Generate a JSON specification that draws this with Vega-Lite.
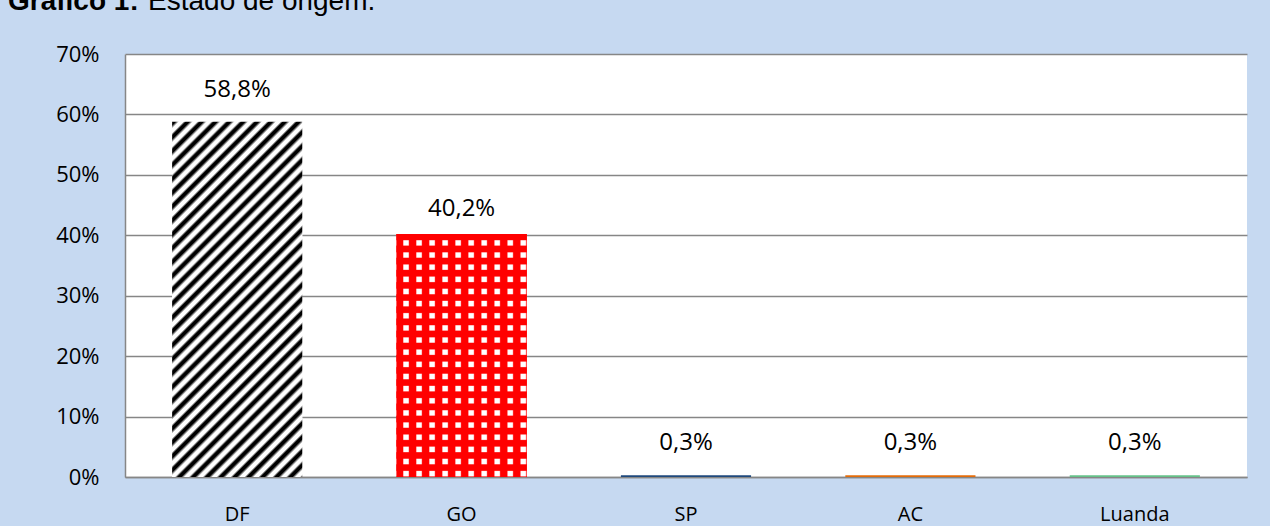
{
  "$schema": "https://vega.github.io/schema/vega-lite/v6.json",
  "width": 1122,
  "height": 423,
  "autosize": {"type": "none"},
  "padding": {"left": 125, "top": 54, "right": 23, "bottom": 49},
  "background": "#C6D9F1",
  "config": {
    "locale": {"number": {"decimal": ",", "thousands": ".", "grouping": [3], "currency": ["R$ ", ""]}},
    "view": {"fill": "white", "stroke": null},
    "axis": {"labelFont": "Open Sans", "labelFontSize": 20, "labelColor": "#000000", "domainColor": "#868686", "domainWidth": 1.5, "gridColor": "#868686", "gridWidth": 1.3, "ticks": false}
  },
  "title": {
    "text": "Gráfico 1:",
    "subtitle": "\u200b\u00a0\u00a0\u00a0\u00a0\u00a0\u00a0\u00a0\u00a0\u00a0\u00a0\u00a0\u00a0\u00a0\u00a0\u00a0\u00a0\u00a0\u00a0Estado de origem.",
    "anchor": "start",
    "frame": "group",
    "font": "Liberation Sans",
    "fontSize": 28,
    "fontWeight": "bold",
    "color": "#000000",
    "subtitleFont": "Liberation Sans",
    "subtitleFontSize": 28,
    "subtitleFontWeight": "normal",
    "subtitleColor": "#000000",
    "subtitlePadding": -28,
    "dx": -117,
    "offset": 27
  },
  "data": {
    "values": [
      {"estado": "DF", "valor": 0.588},
      {"estado": "GO", "valor": 0.402},
      {"estado": "SP", "valor": 0.003},
      {"estado": "AC", "valor": 0.003},
      {"estado": "Luanda", "valor": 0.003}
    ]
  },
  "encoding": {
    "x": {
      "field": "estado", "type": "nominal", "sort": null,
      "scale": {"paddingInner": 0.42, "paddingOuter": 0.21},
      "axis": {"labelAngle": 0, "labelPadding": 27, "title": null, "grid": false}
    },
    "y": {
      "field": "valor", "type": "quantitative",
      "scale": {"domain": [0, 0.7]},
      "axis": {"format": ".0%", "values": [0, 0.1, 0.2, 0.3, 0.4, 0.5, 0.6, 0.7], "labelPadding": 26, "labelFontSize": 22, "title": null, "grid": true}
    }
  },
  "layer": [
    {
      "mark": {"type": "bar"},
      "encoding": {
        "color": {
          "field": "estado", "type": "nominal", "legend": null,
          "scale": {"domain": ["DF", "GO", "SP", "AC", "Luanda"], "range": ["#FFFFFF", "#FF0000", "#1F497D", "#E46C0A", "#66C28A"]}
        }
      }
    },
    {
      "transform": [{"filter": "datum.estado === 'DF'"}],
      "mark": {
        "type": "bar",
        "color": {
          "gradient": "linear", "x1": 0, "y1": 0, "x2": 0.441, "y2": 1.205,
          "stops": [
            {"offset": 0, "color": "#000"}, {"offset": 0.00714, "color": "#000"}, {"offset": 0.01429, "color": "#fff"}, {"offset": 0.02286, "color": "#fff"},
            {"offset": 0.02857, "color": "#000"}, {"offset": 0.03571, "color": "#000"}, {"offset": 0.04286, "color": "#fff"}, {"offset": 0.05143, "color": "#fff"},
            {"offset": 0.05714, "color": "#000"}, {"offset": 0.06429, "color": "#000"}, {"offset": 0.07143, "color": "#fff"}, {"offset": 0.08, "color": "#fff"},
            {"offset": 0.08571, "color": "#000"}, {"offset": 0.09286, "color": "#000"}, {"offset": 0.1, "color": "#fff"}, {"offset": 0.10857, "color": "#fff"},
            {"offset": 0.11429, "color": "#000"}, {"offset": 0.12143, "color": "#000"}, {"offset": 0.12857, "color": "#fff"}, {"offset": 0.13714, "color": "#fff"},
            {"offset": 0.14286, "color": "#000"}, {"offset": 0.15, "color": "#000"}, {"offset": 0.15714, "color": "#fff"}, {"offset": 0.16571, "color": "#fff"},
            {"offset": 0.17143, "color": "#000"}, {"offset": 0.17857, "color": "#000"}, {"offset": 0.18571, "color": "#fff"}, {"offset": 0.19429, "color": "#fff"},
            {"offset": 0.2, "color": "#000"}, {"offset": 0.20714, "color": "#000"}, {"offset": 0.21429, "color": "#fff"}, {"offset": 0.22286, "color": "#fff"},
            {"offset": 0.22857, "color": "#000"}, {"offset": 0.23571, "color": "#000"}, {"offset": 0.24286, "color": "#fff"}, {"offset": 0.25143, "color": "#fff"},
            {"offset": 0.25714, "color": "#000"}, {"offset": 0.26429, "color": "#000"}, {"offset": 0.27143, "color": "#fff"}, {"offset": 0.28, "color": "#fff"},
            {"offset": 0.28571, "color": "#000"}, {"offset": 0.29286, "color": "#000"}, {"offset": 0.3, "color": "#fff"}, {"offset": 0.30857, "color": "#fff"},
            {"offset": 0.31429, "color": "#000"}, {"offset": 0.32143, "color": "#000"}, {"offset": 0.32857, "color": "#fff"}, {"offset": 0.33714, "color": "#fff"},
            {"offset": 0.34286, "color": "#000"}, {"offset": 0.35, "color": "#000"}, {"offset": 0.35714, "color": "#fff"}, {"offset": 0.36571, "color": "#fff"},
            {"offset": 0.37143, "color": "#000"}, {"offset": 0.37857, "color": "#000"}, {"offset": 0.38571, "color": "#fff"}, {"offset": 0.39429, "color": "#fff"},
            {"offset": 0.4, "color": "#000"}, {"offset": 0.40714, "color": "#000"}, {"offset": 0.41429, "color": "#fff"}, {"offset": 0.42286, "color": "#fff"},
            {"offset": 0.42857, "color": "#000"}, {"offset": 0.43571, "color": "#000"}, {"offset": 0.44286, "color": "#fff"}, {"offset": 0.45143, "color": "#fff"},
            {"offset": 0.45714, "color": "#000"}, {"offset": 0.46429, "color": "#000"}, {"offset": 0.47143, "color": "#fff"}, {"offset": 0.48, "color": "#fff"},
            {"offset": 0.48571, "color": "#000"}, {"offset": 0.49286, "color": "#000"}, {"offset": 0.5, "color": "#fff"}, {"offset": 0.50857, "color": "#fff"},
            {"offset": 0.51429, "color": "#000"}, {"offset": 0.52143, "color": "#000"}, {"offset": 0.52857, "color": "#fff"}, {"offset": 0.53714, "color": "#fff"},
            {"offset": 0.54286, "color": "#000"}, {"offset": 0.55, "color": "#000"}, {"offset": 0.55714, "color": "#fff"}, {"offset": 0.56571, "color": "#fff"},
            {"offset": 0.57143, "color": "#000"}, {"offset": 0.57857, "color": "#000"}, {"offset": 0.58571, "color": "#fff"}, {"offset": 0.59429, "color": "#fff"},
            {"offset": 0.6, "color": "#000"}, {"offset": 0.60714, "color": "#000"}, {"offset": 0.61429, "color": "#fff"}, {"offset": 0.62286, "color": "#fff"},
            {"offset": 0.62857, "color": "#000"}, {"offset": 0.63571, "color": "#000"}, {"offset": 0.64286, "color": "#fff"}, {"offset": 0.65143, "color": "#fff"},
            {"offset": 0.65714, "color": "#000"}, {"offset": 0.66429, "color": "#000"}, {"offset": 0.67143, "color": "#fff"}, {"offset": 0.68, "color": "#fff"},
            {"offset": 0.68571, "color": "#000"}, {"offset": 0.69286, "color": "#000"}, {"offset": 0.7, "color": "#fff"}, {"offset": 0.70857, "color": "#fff"},
            {"offset": 0.71429, "color": "#000"}, {"offset": 0.72143, "color": "#000"}, {"offset": 0.72857, "color": "#fff"}, {"offset": 0.73714, "color": "#fff"},
            {"offset": 0.74286, "color": "#000"}, {"offset": 0.75, "color": "#000"}, {"offset": 0.75714, "color": "#fff"}, {"offset": 0.76571, "color": "#fff"},
            {"offset": 0.77143, "color": "#000"}, {"offset": 0.77857, "color": "#000"}, {"offset": 0.78571, "color": "#fff"}, {"offset": 0.79429, "color": "#fff"},
            {"offset": 0.8, "color": "#000"}, {"offset": 0.80714, "color": "#000"}, {"offset": 0.81429, "color": "#fff"}, {"offset": 0.82286, "color": "#fff"},
            {"offset": 0.82857, "color": "#000"}, {"offset": 0.83571, "color": "#000"}, {"offset": 0.84286, "color": "#fff"}, {"offset": 0.85143, "color": "#fff"},
            {"offset": 0.85714, "color": "#000"}, {"offset": 0.86429, "color": "#000"}, {"offset": 0.87143, "color": "#fff"}, {"offset": 0.88, "color": "#fff"},
            {"offset": 0.88571, "color": "#000"}, {"offset": 0.89286, "color": "#000"}, {"offset": 0.9, "color": "#fff"}, {"offset": 0.90857, "color": "#fff"},
            {"offset": 0.91429, "color": "#000"}, {"offset": 0.92143, "color": "#000"}, {"offset": 0.92857, "color": "#fff"}, {"offset": 0.93714, "color": "#fff"},
            {"offset": 0.94286, "color": "#000"}, {"offset": 0.95, "color": "#000"}, {"offset": 0.95714, "color": "#fff"}, {"offset": 0.96571, "color": "#fff"},
            {"offset": 0.97143, "color": "#000"}, {"offset": 0.97857, "color": "#000"}, {"offset": 0.98571, "color": "#fff"}, {"offset": 0.99429, "color": "#fff"},
            {"offset": 1, "color": "#000"}
          ]
        }
      }
    },
    {
      "transform": [{"filter": "datum.estado === 'GO'"}],
      "mark": {
        "type": "bar",
        "color": {
          "gradient": "linear", "x1": 0, "y1": 0, "x2": 0, "y2": 1,
          "stops": [
            {"offset": 0, "color": "#f00"}, {"offset": 0.0225, "color": "#f00"}, {"offset": 0.0275, "color": "#fff"}, {"offset": 0.045, "color": "#fff"},
            {"offset": 0.05, "color": "#f00"}, {"offset": 0.0725, "color": "#f00"}, {"offset": 0.0775, "color": "#fff"}, {"offset": 0.095, "color": "#fff"},
            {"offset": 0.1, "color": "#f00"}, {"offset": 0.1225, "color": "#f00"}, {"offset": 0.1275, "color": "#fff"}, {"offset": 0.145, "color": "#fff"},
            {"offset": 0.15, "color": "#f00"}, {"offset": 0.1725, "color": "#f00"}, {"offset": 0.1775, "color": "#fff"}, {"offset": 0.195, "color": "#fff"},
            {"offset": 0.2, "color": "#f00"}, {"offset": 0.2225, "color": "#f00"}, {"offset": 0.2275, "color": "#fff"}, {"offset": 0.245, "color": "#fff"},
            {"offset": 0.25, "color": "#f00"}, {"offset": 0.2725, "color": "#f00"}, {"offset": 0.2775, "color": "#fff"}, {"offset": 0.295, "color": "#fff"},
            {"offset": 0.3, "color": "#f00"}, {"offset": 0.3225, "color": "#f00"}, {"offset": 0.3275, "color": "#fff"}, {"offset": 0.345, "color": "#fff"},
            {"offset": 0.35, "color": "#f00"}, {"offset": 0.3725, "color": "#f00"}, {"offset": 0.3775, "color": "#fff"}, {"offset": 0.395, "color": "#fff"},
            {"offset": 0.4, "color": "#f00"}, {"offset": 0.4225, "color": "#f00"}, {"offset": 0.4275, "color": "#fff"}, {"offset": 0.445, "color": "#fff"},
            {"offset": 0.45, "color": "#f00"}, {"offset": 0.4725, "color": "#f00"}, {"offset": 0.4775, "color": "#fff"}, {"offset": 0.495, "color": "#fff"},
            {"offset": 0.5, "color": "#f00"}, {"offset": 0.5225, "color": "#f00"}, {"offset": 0.5275, "color": "#fff"}, {"offset": 0.545, "color": "#fff"},
            {"offset": 0.55, "color": "#f00"}, {"offset": 0.5725, "color": "#f00"}, {"offset": 0.5775, "color": "#fff"}, {"offset": 0.595, "color": "#fff"},
            {"offset": 0.6, "color": "#f00"}, {"offset": 0.6225, "color": "#f00"}, {"offset": 0.6275, "color": "#fff"}, {"offset": 0.645, "color": "#fff"},
            {"offset": 0.65, "color": "#f00"}, {"offset": 0.6725, "color": "#f00"}, {"offset": 0.6775, "color": "#fff"}, {"offset": 0.695, "color": "#fff"},
            {"offset": 0.7, "color": "#f00"}, {"offset": 0.7225, "color": "#f00"}, {"offset": 0.7275, "color": "#fff"}, {"offset": 0.745, "color": "#fff"},
            {"offset": 0.75, "color": "#f00"}, {"offset": 0.7725, "color": "#f00"}, {"offset": 0.7775, "color": "#fff"}, {"offset": 0.795, "color": "#fff"},
            {"offset": 0.8, "color": "#f00"}, {"offset": 0.8225, "color": "#f00"}, {"offset": 0.8275, "color": "#fff"}, {"offset": 0.845, "color": "#fff"},
            {"offset": 0.85, "color": "#f00"}, {"offset": 0.8725, "color": "#f00"}, {"offset": 0.8775, "color": "#fff"}, {"offset": 0.895, "color": "#fff"},
            {"offset": 0.9, "color": "#f00"}, {"offset": 0.9225, "color": "#f00"}, {"offset": 0.9275, "color": "#fff"}, {"offset": 0.945, "color": "#fff"},
            {"offset": 0.95, "color": "#f00"}, {"offset": 0.9725, "color": "#f00"}, {"offset": 0.9775, "color": "#fff"}, {"offset": 0.995, "color": "#fff"},
            {"offset": 1, "color": "#f00"}
          ]
        }
      }
    },
    {
      "transform": [{"filter": "datum.estado === 'GO'"}],
      "mark": {
        "type": "bar",
        "color": {
          "gradient": "linear", "x1": 0, "y1": 0, "x2": 1, "y2": 0,
          "stops": [
            {"offset": 0, "color": "#f00"}, {"offset": 0.05, "color": "#f00"}, {"offset": 0.055, "color": "rgba(255,0,0,0)"}, {"offset": 0.09, "color": "rgba(255,0,0,0)"},
            {"offset": 0.1, "color": "#f00"}, {"offset": 0.15, "color": "#f00"}, {"offset": 0.155, "color": "rgba(255,0,0,0)"}, {"offset": 0.19, "color": "rgba(255,0,0,0)"},
            {"offset": 0.2, "color": "#f00"}, {"offset": 0.25, "color": "#f00"}, {"offset": 0.255, "color": "rgba(255,0,0,0)"}, {"offset": 0.29, "color": "rgba(255,0,0,0)"},
            {"offset": 0.3, "color": "#f00"}, {"offset": 0.35, "color": "#f00"}, {"offset": 0.355, "color": "rgba(255,0,0,0)"}, {"offset": 0.39, "color": "rgba(255,0,0,0)"},
            {"offset": 0.4, "color": "#f00"}, {"offset": 0.45, "color": "#f00"}, {"offset": 0.455, "color": "rgba(255,0,0,0)"}, {"offset": 0.49, "color": "rgba(255,0,0,0)"},
            {"offset": 0.5, "color": "#f00"}, {"offset": 0.55, "color": "#f00"}, {"offset": 0.555, "color": "rgba(255,0,0,0)"}, {"offset": 0.59, "color": "rgba(255,0,0,0)"},
            {"offset": 0.6, "color": "#f00"}, {"offset": 0.65, "color": "#f00"}, {"offset": 0.655, "color": "rgba(255,0,0,0)"}, {"offset": 0.69, "color": "rgba(255,0,0,0)"},
            {"offset": 0.7, "color": "#f00"}, {"offset": 0.75, "color": "#f00"}, {"offset": 0.755, "color": "rgba(255,0,0,0)"}, {"offset": 0.79, "color": "rgba(255,0,0,0)"},
            {"offset": 0.8, "color": "#f00"}, {"offset": 0.85, "color": "#f00"}, {"offset": 0.855, "color": "rgba(255,0,0,0)"}, {"offset": 0.89, "color": "rgba(255,0,0,0)"},
            {"offset": 0.9, "color": "#f00"}, {"offset": 0.95, "color": "#f00"}, {"offset": 0.955, "color": "rgba(255,0,0,0)"}, {"offset": 0.99, "color": "rgba(255,0,0,0)"},
            {"offset": 1, "color": "#f00"}
          ]
        }
      }
    },
    {
      "transform": [{"filter": "datum.estado !== 'GO'"}],
      "mark": {"type": "text", "font": "Open Sans", "fontSize": 24, "baseline": "middle", "dy": -32, "color": "#000000"},
      "encoding": {
        "text": {"field": "valor", "type": "quantitative", "format": ".1%"}
      }
    },
    {
      "transform": [{"filter": "datum.estado === 'GO'"}],
      "mark": {"type": "text", "font": "Open Sans", "fontSize": 24, "baseline": "middle", "dy": -25, "color": "#000000"},
      "encoding": {
        "text": {"field": "valor", "type": "quantitative", "format": ".1%"}
      }
    }
  ]
}
